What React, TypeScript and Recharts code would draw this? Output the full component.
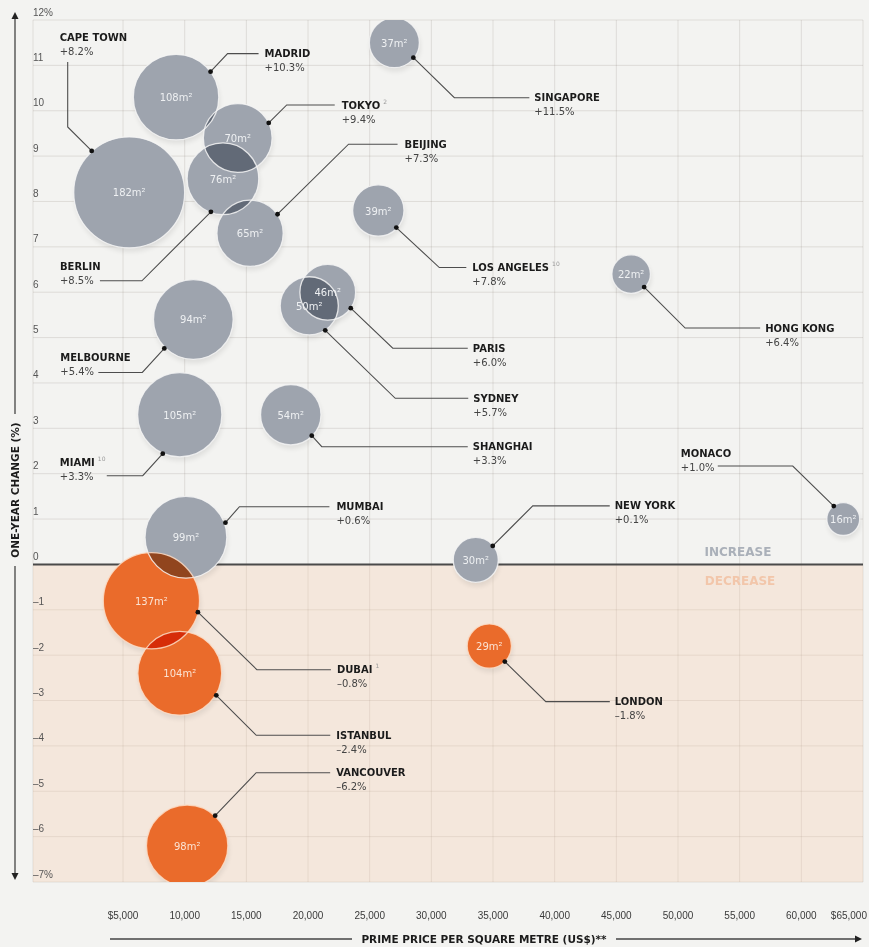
import { ScatterChart, Scatter, XAxis, YAxis, ZAxis, CartesianGrid, ReferenceArea, ReferenceLine } from "recharts";

const cities = ["CAPE TOWN", "MADRID", "TOKYO", "BERLIN", "BEIJING", "SINGAPORE", "LOS ANGELES", "HONG KONG", "PARIS", "SYDNEY", "MELBOURNE", "MIAMI", "SHANGHAI", "MUMBAI", "NEW YORK", "MONACO", "DUBAI", "ISTANBUL", "LONDON", "VANCOUVER"];
const pricePerSqm = [5500, 9300, 14300, 13100, 15300, 27000, 25700, 46200, 21600, 20100, 10700, 9600, 18600, 10100, 33600, 63400, 7300, 9600, 34700, 10200];
const yearChange = [8.2, 10.3, 9.4, 8.5, 7.3, 11.5, 7.8, 6.4, 6.0, 5.7, 5.4, 3.3, 3.3, 0.6, 0.1, 1.0, -0.8, -2.4, -1.8, -6.2];
const squareMetres = [182, 108, 70, 76, 65, 37, 39, 22, 46, 50, 94, 105, 54, 99, 30, 16, 137, 104, 29, 98];
const footnotes = ["", "", "2", "", "", "", "10", "", "", "", "", "10", "", "", "", "", "1", "", "", ""];

const xTicks = [5000, 10000, 15000, 20000, 25000, 30000, 35000, 40000, 45000, 50000, 55000, 60000, 65000];
const xTickLabels = ["$5,000", "10,000", "15,000", "20,000", "25,000", "30,000", "35,000", "40,000", "45,000", "50,000", "55,000", "60,000", "$65,000"];
const yTicks = [12, 11, 10, 9, 8, 7, 6, 5, 4, 3, 2, 1, 0, -1, -2, -3, -4, -5, -6, -7];
const yTickLabels = ["12%", "11", "10", "9", "8", "7", "6", "5", "4", "3", "2", "1", "0", "–1", "–2", "–3", "–4", "–5", "–6", "–7%"];

// leader line layout, px offsets from the bubble centre: dot, elbow, end
const leaderPaths = [
  [[-37.5, -41.5], [-61.5, -65.5], [-61.5, -130.5]],
  [[34.5, -25.5], [51.5, -43.5], [82.5, -43.5]],
  [[31, -15], [49, -33], [97, -33]],
  [[-12, 33], [-81, 102], [-123, 102]],
  [[27.5, -19], [98.5, -89], [147.5, -89]],
  [[19, 15], [60, 55], [135, 55]],
  [[18, 17], [61, 57], [88, 57]],
  [[13, 13], [54, 54], [129, 54]],
  [[23, 16], [65, 56], [140, 56]],
  [[16, 24.5], [86, 92.5], [159, 92.5]],
  [[-29, 29], [-51, 53], [-95, 53]],
  [[-17, 39], [-37, 61], [-73, 61]],
  [[21, 21], [31, 32], [177, 32]],
  [[39.5, -14.5], [53.5, -30.5], [143.5, -30.5]],
  [[17, -14], [57, -54], [134, -54]],
  [[-9.5, -13], [-50.5, -53], [-125.5, -53]],
  [[46.5, 11.5], [105.5, 69], [179.5, 69]],
  [[36.5, 22], [76.5, 62], [150.5, 62]],
  [[15.5, 15.5], [56.5, 55.5], [120.5, 55.5]],
  [[28, -30], [69, -73], [143, -73]],
];
// name row position (left x, centre y) relative to bubble centre
const labelOffsets = [
  [-69.5, -155.5], [88.5, -43.5], [104, -33], [-163, 88], [154.5, -89], [140, 55], [94, 57], [134, 54], [145, 56], [164, 92.5],
  [-133, 38], [-120, 48], [182, 32], [150.5, -30.5], [139, -54], [-162.5, -66], [185.5, 69], [156.5, 62], [125.5, 55.5], [149, -73],
];

const data = cities.map((city, i) => ({
  city,
  price: pricePerSqm[i],
  change: yearChange[i],
  area: squareMetres[i],
  note: footnotes[i],
  idx: i,
}));

const BG = "#f3f3f1";
const GRAY = "#9ea4ae";
const ORANGE = "#ea6b2b";
const SANS = "'DejaVu Sans', sans-serif";
const NARROW = "'Liberation Sans Narrow', 'Arial Narrow', 'Liberation Sans', sans-serif";

const PLOT_LEFT = 33;
const PLOT_TOP = 20;
const PLOT_BOTTOM = 882;

const radiusOf = (p: any) => (p.width ? p.width / 2 : Math.sqrt((p.size || 0) / Math.PI));
const fmtPct = (v: number) => `${v >= 0 ? "+" : "–"}${Math.abs(v).toFixed(1)}%`;

const BubbleShadow = (p: any) => (
  <g>
    {p.payload.idx === 0 && (
      <defs>
        <filter id="soft" x="-50%" y="-50%" width="200%" height="200%">
          <feGaussianBlur stdDeviation="2.5" />
        </filter>
      </defs>
    )}
    <circle cx={p.cx + 1} cy={p.cy + 4} r={radiusOf(p)} fill="#000" opacity={0.08} filter="url(#soft)" />
  </g>
);

const BubbleFill = (p: any) => (
  <circle
    cx={p.cx}
    cy={p.cy}
    r={radiusOf(p)}
    fill={p.payload.change < 0 ? ORANGE : GRAY}
    style={{ mixBlendMode: "multiply" }}
  />
);

const BubbleRim = (p: any) => {
  const neg = p.payload.change < 0;
  return (
    <g>
      <circle cx={p.cx} cy={p.cy} r={radiusOf(p)} fill="none" stroke={neg ? "#fbdcc6" : "#f4f4f4"} strokeWidth={1.3} opacity={0.85} />
      <text x={p.cx} y={p.cy + 4} textAnchor="middle" fontFamily={SANS} fontSize={10} fill={neg ? "#fbe3d3" : "#eef0f2"}>
        {p.payload.area}m²
      </text>
    </g>
  );
};

const Callout = (p: any) => {
  const i = p.payload.idx;
  const pts = leaderPaths[i].map(([dx, dy]) => `${p.cx + dx},${p.cy + dy}`).join(" ");
  const [ddx, ddy] = leaderPaths[i][0];
  const lx = p.cx + labelOffsets[i][0];
  const ly = p.cy + labelOffsets[i][1];
  return (
    <g>
      <polyline points={pts} fill="none" stroke="#4d4d4d" strokeWidth={1.1} />
      <circle cx={p.cx + ddx} cy={p.cy + ddy} r={2.4} fill="#111" />
      <text x={lx} y={ly + 3.6} fontFamily={SANS} fontSize={10} fontWeight={700} fill="#1b1b1b">
        {p.payload.city}
        {p.payload.note && (
          <tspan dx={3} dy={-5} fontSize={6} fontWeight={400} fill="#9a9a9a">
            {p.payload.note}
          </tspan>
        )}
      </text>
      <text x={lx} y={ly + 17.6} fontFamily={SANS} fontSize={10} fill="#444">
        {fmtPct(p.payload.change)}
      </text>
    </g>
  );
};

const XTick = (p: any) => {
  const i = xTicks.indexOf(p.payload.value);
  const last = i === xTicks.length - 1;
  return (
    <text x={last ? 867 : p.x} y={PLOT_BOTTOM + 37} textAnchor={last ? "end" : "middle"} fontFamily={NARROW} fontSize={10} fill="#3a3a3a">
      {xTickLabels[i]}
    </text>
  );
};

const YTick = (p: any) => {
  const i = yTicks.indexOf(p.payload.value);
  return (
    <text x={PLOT_LEFT} y={p.y - 4.5} textAnchor="start" fontFamily={NARROW} fontSize={10} fill="#555">
      {yTickLabels[i]}
    </text>
  );
};

const XTitle = () => {
  const right = 862;
  const y = PLOT_BOTTOM + 57;
  return (
    <g>
      <line x1={110} y1={y} x2={352} y2={y} stroke="#444" strokeWidth={1.3} />
      <line x1={616} y1={y} x2={right - 4} y2={y} stroke="#444" strokeWidth={1.3} />
      <path d={`M${right},${y} L${right - 7},${y - 3.5} L${right - 7},${y + 3.5} Z`} fill="#222" />
      <text x={484} y={y + 3.8} textAnchor="middle" fontFamily={SANS} fontSize={10.5} fontWeight={700} fill="#1b1b1b">
        PRIME PRICE PER SQUARE METRE (US$)**
      </text>
    </g>
  );
};

const YTitle = () => {
  const x = 15;
  const top = PLOT_TOP - 8;
  const bottom = PLOT_BOTTOM - 2;
  return (
    <g>
      <line x1={x} y1={top + 5} x2={x} y2={414} stroke="#444" strokeWidth={1.3} />
      <line x1={x} y1={566} x2={x} y2={bottom - 5} stroke="#444" strokeWidth={1.3} />
      <path d={`M${x},${top} L${x - 3.5},${top + 7} L${x + 3.5},${top + 7} Z`} fill="#222" />
      <path d={`M${x},${bottom} L${x - 3.5},${bottom - 7} L${x + 3.5},${bottom - 7} Z`} fill="#222" />
      <text x={x} y={490} transform={`rotate(-90 ${x} 490)`} dy={3.8} textAnchor="middle" fontFamily={SANS} fontSize={10.5} fontWeight={700} fill="#1b1b1b">
        ONE-YEAR CHANGE (%)
      </text>
    </g>
  );
};

const ZeroLabels = (props: any) => {
  const vb = props.viewBox || { x: 33, y: 564, width: 830 };
  const cx = vb.x + vb.width - 125;
  return (
    <g fontFamily={SANS} fontWeight={700} fontSize={12} textAnchor="middle">
      <text x={cx} y={vb.y - 8} fill="#aab0b9">INCREASE</text>
      <text x={cx + 2} y={vb.y + 21} fill="#f2c6aa">DECREASE</text>
    </g>
  );
};

export default function App() {
  return (
    <div style={{ position: "absolute", left: 0, top: 0, width: 869, height: 947, background: BG }}>
      <ScatterChart width={869} height={947} margin={{ top: PLOT_TOP, right: 6, bottom: 5, left: 0 }} style={{ background: BG }}>
        <XAxis
          type="number"
          dataKey="price"
          domain={[-2300, 65000]}
          ticks={xTicks}
          interval={0}
          height={60}
          axisLine={false}
          tickLine={false}
          tick={<XTick />}
          allowDataOverflow
          label={<XTitle />}
        />
        <YAxis
          type="number"
          dataKey="change"
          domain={[-7, 12]}
          ticks={yTicks}
          interval={0}
          width={PLOT_LEFT}
          axisLine={false}
          tickLine={false}
          tick={<YTick />}
          allowDataOverflow
          label={<YTitle />}
        />
        <ZAxis type="number" dataKey="area" domain={[0, 200]} range={[0, 10620]} />
        <ReferenceArea x1={-2300} x2={65000} y1={-7} y2={0} fill="#facead" fillOpacity={0.3} stroke="none" />
        <CartesianGrid stroke="rgba(120,105,95,0.17)" strokeWidth={1} />
        <ReferenceLine y={0} stroke="#4a4a4a" strokeWidth={2} label={<ZeroLabels />} />
        <Scatter data={data} shape={BubbleShadow} isAnimationActive={false} />
        <Scatter data={data} shape={BubbleFill} isAnimationActive={false} />
        <Scatter data={data} shape={BubbleRim} isAnimationActive={false} />
        <Scatter data={data} shape={Callout} isAnimationActive={false} />
      </ScatterChart>
    </div>
  );
}
